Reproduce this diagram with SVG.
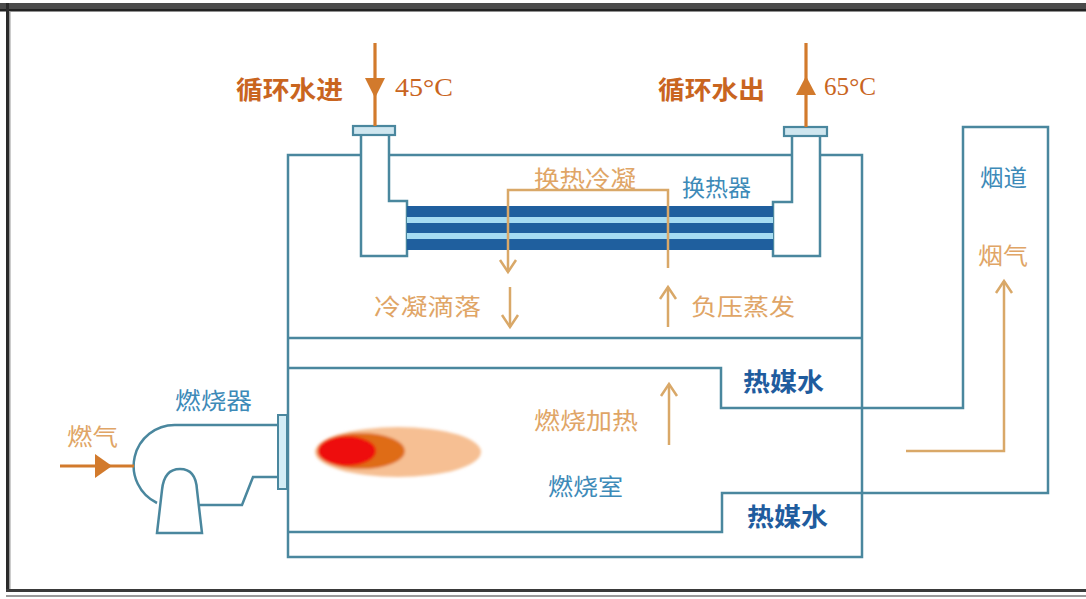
<svg xmlns="http://www.w3.org/2000/svg" width="1086" height="599" viewBox="0 0 1086 599">
  <defs>
    <style>
      .ln { fill: none; stroke: #4a879e; stroke-width: 2.5; stroke-linejoin: miter; }
      .wf { fill: #ffffff; stroke: #4a879e; stroke-width: 2.5; }
      .flange { fill: #cfe6ef; stroke: #4a879e; stroke-width: 2.2; }
      .tan { fill: none; stroke: #d9a868; stroke-width: 2.5; }
      .hot { fill: none; stroke: #d27a2c; stroke-width: 3.2; }
      .hotfill { fill: #d27a2c; }
      .cn { font-family: "Noto Sans CJK SC", "Noto Sans", sans-serif; dominant-baseline: central; }
      .title { font-size: 25px; font-weight: 700; fill: #c9651f; }
      .temp { font-family: "Liberation Serif", serif; font-size: 26px; fill: #c9651f; dominant-baseline: central; }
      .lbl-o { font-size: 23px; fill: #e0a566; }
      .lbl-b { font-size: 23px; fill: #3d8ab8; }
      .lbl-d { font-size: 25px; font-weight: 700; fill: #1f5c9e; }
    </style>
    <marker id="chev" markerUnits="userSpaceOnUse" markerWidth="30" markerHeight="30" viewBox="-15 -15 30 30" refX="0" refY="0" orient="auto">
      <path d="M-12,-8 L0,0 L-12,8" fill="none" stroke="#d9a868" stroke-width="2.5"/>
    </marker>
    <filter id="soft" x="-20%" y="-40%" width="140%" height="180%">
      <feGaussianBlur stdDeviation="1.6"/>
    </filter>
  </defs>

  <rect width="1086" height="599" fill="#ffffff"/>

  <!-- window frame -->
  <g id="frame">
    <rect x="0" y="3" width="1086" height="7" fill="#4b4b4b"/>
    <rect x="0" y="9" width="1086" height="2.5" fill="#222222"/>
    <rect x="6" y="3" width="3" height="589" fill="#2a2a2a"/>
    <rect x="9" y="11" width="1.5" height="580" fill="#9a9a9a"/>
    <rect x="6" y="589" width="1080" height="3" fill="#3a3a3a"/>
    <rect x="6" y="595" width="1080" height="2" fill="#9a9a9a"/>
  </g>

  <!-- boiler shell with partition -->
  <g id="boiler-shell">
    <rect class="ln" x="288" y="155" width="574" height="402"/>
    <line class="ln" x1="288" y1="338" x2="862" y2="338"/>
  </g>

  <!-- flue and combustion chamber water jacket -->
  <g id="combustion-chamber">
    <path class="ln" d="M288,368 H721 V408 H963 V127 H1048 V493 H722 V532 H288"/>
  </g>

  <!-- heat exchanger: headers and tube bundle -->
  <g id="heat-exchanger">
    <path class="wf" d="M361,135 V256 H407 V201 H389 V135"/>
    <path class="wf" d="M820,136 V256 H773 V202 H792 V136"/>
    <rect class="flange" x="353" y="126" width="42" height="9"/>
    <rect class="flange" x="784" y="127" width="43" height="9"/>
    <rect x="407" y="206" width="366" height="44" fill="#1f5f9e"/>
    <rect x="407" y="217" width="366" height="6" fill="#a6dcf2"/>
    <rect x="407" y="233" width="366" height="6" fill="#a6dcf2"/>
  </g>

  <!-- burner -->
  <g id="burner">
    <path class="ln" d="M278,425 H175 A41,41 0 0 0 157,503"/>
    <path class="ln" d="M157,533 L162,490 Q164,469 180,469 Q196,469 197,490 L202,533 Z"/>
    <path class="ln" d="M200,505 H242 L253,477 H278"/>
    <rect x="278" y="415" width="9" height="74" fill="#d3edf6" stroke="#4a879e" stroke-width="2"/>
  </g>

  <!-- flame -->
  <g id="flame" filter="url(#soft)">
    <ellipse cx="398" cy="452" rx="83" ry="25" fill="#f6bf93"/>
    <ellipse cx="361" cy="451" rx="44" ry="18" fill="#df6c12"/>
    <ellipse cx="347" cy="451" rx="29" ry="15" fill="#ee1111"/>
  </g>

  <!-- flow arrows -->
  <g id="connectors">
    <line class="hot" x1="375" y1="43" x2="375" y2="126"/>
    <polygon class="hotfill" points="365,78 385,78 375,98"/>
    <line class="hot" x1="806" y1="43" x2="806" y2="127"/>
    <polygon class="hotfill" points="796,95 816,95 806,76"/>
    <line class="hot" x1="60" y1="466" x2="134" y2="466"/>
    <polygon class="hotfill" points="95,454 95,478 112,466"/>
    <path class="tan" d="M668,268 V190 H508 V272" marker-end="url(#chev)"/>
    <line class="tan" x1="510" y1="287" x2="510" y2="327" marker-end="url(#chev)"/>
    <line class="tan" x1="668" y1="327" x2="668" y2="287" marker-end="url(#chev)"/>
    <line class="tan" x1="669" y1="445" x2="669" y2="384" marker-end="url(#chev)"/>
    <path class="tan" d="M906,451 H1004 V281" marker-end="url(#chev)"/>
  </g>

  <!-- labels -->
  <g id="labels">
    <text class="cn title" x="236" y="88" textLength="107" lengthAdjust="spacingAndGlyphs">循环水进</text>
    <text class="temp" x="395" y="87" textLength="58" lengthAdjust="spacingAndGlyphs">45°C</text>
    <text class="cn title" x="658" y="88" textLength="107" lengthAdjust="spacingAndGlyphs">循环水出</text>
    <text class="temp" x="824" y="86" textLength="52" lengthAdjust="spacingAndGlyphs">65°C</text>
    <text class="cn lbl-o" x="534" y="177" textLength="102" lengthAdjust="spacingAndGlyphs">换热冷凝</text>
    <text class="cn lbl-b" x="682" y="186" textLength="69" lengthAdjust="spacingAndGlyphs">换热器</text>
    <text class="cn lbl-o" x="374" y="305" textLength="107" lengthAdjust="spacingAndGlyphs">冷凝滴落</text>
    <text class="cn lbl-o" x="691" y="305" textLength="104" lengthAdjust="spacingAndGlyphs">负压蒸发</text>
    <text class="cn lbl-d" x="743" y="380" textLength="81" lengthAdjust="spacingAndGlyphs">热媒水</text>
    <text class="cn lbl-o" x="534" y="419" textLength="104" lengthAdjust="spacingAndGlyphs">燃烧加热</text>
    <text class="cn lbl-b" x="548" y="485" textLength="75" lengthAdjust="spacingAndGlyphs">燃烧室</text>
    <text class="cn lbl-d" x="747" y="515" textLength="81" lengthAdjust="spacingAndGlyphs">热媒水</text>
    <text class="cn lbl-b" x="175" y="399" textLength="77" lengthAdjust="spacingAndGlyphs">燃烧器</text>
    <text class="cn lbl-o" x="67" y="435" textLength="51" lengthAdjust="spacingAndGlyphs">燃气</text>
    <text class="cn lbl-b" x="980" y="176" textLength="47" lengthAdjust="spacingAndGlyphs">烟道</text>
    <text class="cn lbl-o" x="978" y="254" textLength="50" lengthAdjust="spacingAndGlyphs">烟气</text>
  </g>
</svg>
